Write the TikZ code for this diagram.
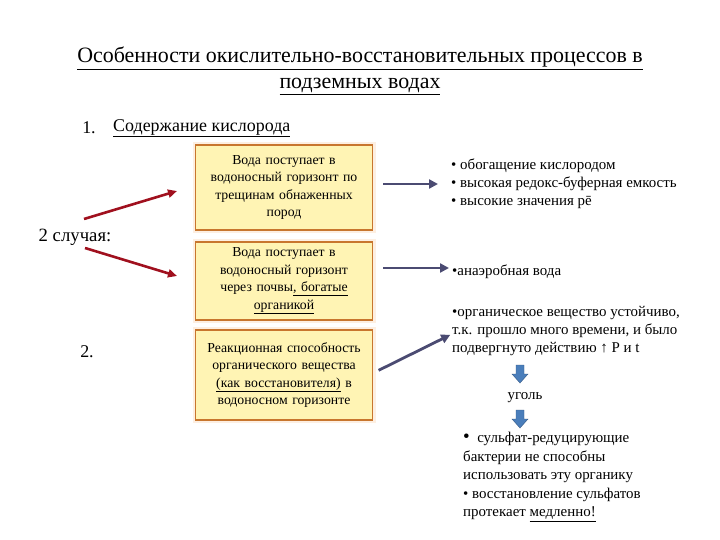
\documentclass[tikz,border=0pt]{standalone}
\usepackage{fontspec}
\setmainfont{Liberation Serif}
\usetikzlibrary{arrows.meta,calc}
\definecolor{boxfill}{HTML}{FFF4B4}
\definecolor{boxline}{HTML}{C8762E}
\definecolor{glow}{HTML}{FDEFE2}
\definecolor{slate}{HTML}{4B4B72}
\definecolor{darkred}{HTML}{A0101E}
\definecolor{arrowblue}{HTML}{4A7EBB}

\begin{document}
\begin{tikzpicture}[x=1bp, y=-1bp,
    every node/.style = {inner sep=0pt, align=center},
    big/.style = {font=\fontsize{18}{22}\selectfont},
    water/.style = {draw=boxline, fill=boxfill, line width=1.5bp, minimum width=177bp,
      text width=174bp, font=\fontsize{13.8}{17.5}\selectfont,
      preaction={draw=glow, line width=6bp}},
    result/.style = {anchor=west, align=left, font=\fontsize{15}{18}\selectfont},
    redarrow/.style = {draw=darkred, line width=2.6bp, -{Triangle[length=9bp,width=8bp]}},
    flow/.style = {draw=slate, line width=2.8bp, -{Triangle[length=9bp,width=9bp]}},
    down/.style = {fill=arrowblue, draw=arrowblue!70!black, line width=0.4bp}]
    \useasboundingbox (0, 0) rectangle (720, 540);

    % title
    \node (title) at (360, 71) [font=\fontsize{22}{26}\selectfont]
      {\underline{Особенности окислительно-восстановительных процессов в}\\\underline{подземных водах}};
    \node (n1) at (89, 128) [big] {1.};
    \node (oxygen) at (113, 128) [big, anchor=west] {\underline{Содержание кислорода}};

    % left part
    \node (cases) at (75, 237) [font=\fontsize{18.8}{22}\selectfont] {2 случая:};
    \node (n2) at (87, 352) [big] {2.};
    \coordinate (up0) at (84, 219);
    \coordinate (up1) at (177, 191);
    \coordinate (dn0) at (85, 248);
    \coordinate (dn1) at (177, 276);

    % boxes
    \node (b1) at (284, 187.5) [water, minimum height=85bp]
      {Вода поступает в\\водоносный горизонт по\\трещинам обнаженных\\пород};
    \node (b2) at (284, 281) [water, minimum height=78bp]
      {Вода поступает в\\водоносный горизонт\\через почвы\underline{, богатые}\\\underline{органикой}};
    \node (b3) at (284, 375) [water, minimum height=90bp]
      {Реакционная способность\\органического вещества\\\underline{(как восстановителя)} в\\водоносном горизонте};

    % results
    \node (t1) at (451, 184) [result]
      {\textbullet\ обогащение кислородом\\\textbullet\ высокая редокс-буферная емкость\\\textbullet\ высокие значения pē};
    \node (t2) at (452, 272) [result] {\textbullet анаэробная вода};
    \node (t3) at (452, 331) [result]
      {\textbullet органическое вещество устойчиво,\\т.к. прошло много времени, и было\\подвергнуто действию ↑ P и t};
    \coordinate (a1) at (520, 365);
    \node (coal) at (525, 398) [result, anchor=center] {уголь};
    \coordinate (a2) at (520, 410);
    \node (t4) at (463, 477) [result, font=\fontsize{15}{18.6}\selectfont]
      {{\fontsize{19}{18}\selectfont\textbullet}\ \ сульфат-редуцирующие\\бактерии не способны\\использовать эту органику\\\textbullet\ восстановление сульфатов\\протекает \underline{медленно!}};

    % block arrows
    \foreach \a in {a1, a2}
      \draw[down] ($(\a)+(-4,0)$) -- ++(8,0) -- ++(0,9) -- ++(4,0) -- ++(-8,9) -- ++(-8,-9) -- ++(4,0) -- cycle;

    \draw[redarrow] (up0) -- (up1);
    \draw[redarrow] (dn0) -- (dn1);
    \draw[flow, shorten <=10bp, shorten >=13bp] ([yshift=3.5bp]b1.east) -- ([yshift=3.5bp]b1.east -| t1.west);
    \draw[flow, shorten <=10bp, shorten >=3bp] ([yshift=4bp]t2.west -| b2.east) -- ([yshift=4bp]t2.west);
    \draw[flow, shorten <=6bp, shorten >=2bp] ([yshift=2bp]b3.east) -- ([yshift=-3bp]t3.west);
  \end{tikzpicture}
\end{document}
